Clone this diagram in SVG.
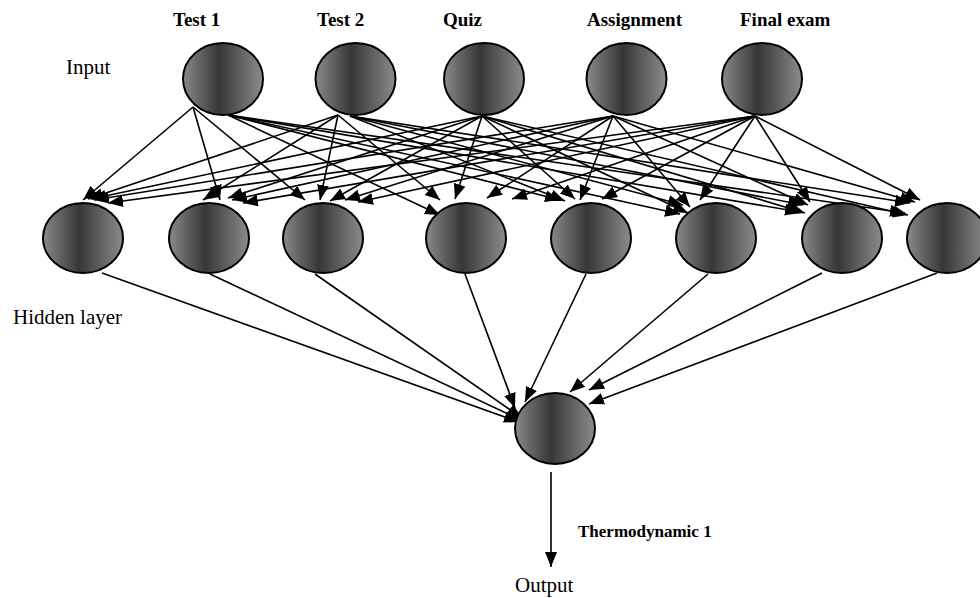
<svg xmlns="http://www.w3.org/2000/svg" width="980" height="598" viewBox="0 0 980 598">
<style>
.node{fill:url(#g);stroke:#000;stroke-width:2}
.c line{stroke:#000;stroke-width:1.6;marker-end:url(#a)}
.lb{font-family:"Liberation Serif","Times New Roman",serif;font-weight:bold;font-size:19px;fill:#000}
.lr{font-family:"Liberation Serif","Times New Roman",serif;font-size:21px;fill:#000}
</style>
<defs>
<linearGradient id="g" x1="0" y1="0" x2="1" y2="0">
<stop offset="0" stop-color="#8a8a8a"/>
<stop offset="0.45" stop-color="#363636"/>
<stop offset="1" stop-color="#8c8c8c"/>
</linearGradient>
<marker id="a" markerUnits="userSpaceOnUse" markerWidth="16" markerHeight="13" refX="15" refY="6" orient="auto">
<path d="M0,0 L15,6 L0,12 z" fill="#000"/>
</marker>
</defs>
<rect width="980" height="598" fill="#fff"/>
<g id="labels">
<text class="lb" x="173" y="26">Test 1</text>
<text class="lb" x="317" y="26">Test 2</text>
<text class="lb" x="443" y="26">Quiz</text>
<text class="lb" x="587" y="26">Assignment</text>
<text class="lb" x="740" y="26">Final exam</text>
<text class="lr" x="66" y="74">Input</text>
<text class="lr" x="13" y="324">Hidden layer</text>
<text class="lr" x="515" y="592">Output</text>
<text class="lb" x="578" y="537" style="font-size:17px">Thermodynamic 1</text>
</g>
<g id="connectors" class="c">
<!-- Test 1 -->
<line x1="193" y1="107" x2="83" y2="200"/>
<line x1="193" y1="107" x2="220" y2="200"/>
<line x1="193" y1="107" x2="305" y2="200"/>
<line x1="228" y1="115" x2="440" y2="215"/>
<line x1="228" y1="115" x2="560" y2="200"/>
<line x1="228" y1="115" x2="680" y2="214"/>
<line x1="228" y1="115" x2="800" y2="212"/>
<line x1="228" y1="115" x2="905" y2="213"/>
<!-- Test 2 -->
<line x1="338" y1="115" x2="88" y2="199"/>
<line x1="338" y1="115" x2="203" y2="200"/>
<line x1="338" y1="115" x2="320" y2="200"/>
<line x1="338" y1="115" x2="440" y2="200"/>
<line x1="350" y1="116" x2="565" y2="201"/>
<line x1="350" y1="116" x2="683" y2="205"/>
<line x1="350" y1="116" x2="803" y2="205"/>
<line x1="350" y1="116" x2="910" y2="203"/>
<!-- Quiz -->
<line x1="482" y1="116" x2="91" y2="199"/>
<line x1="482" y1="116" x2="228" y2="198"/>
<line x1="482" y1="116" x2="330" y2="201"/>
<line x1="482" y1="116" x2="455" y2="199"/>
<line x1="482" y1="116" x2="575" y2="199"/>
<line x1="482" y1="116" x2="688" y2="213"/>
<line x1="482" y1="116" x2="805" y2="213"/>
<line x1="482" y1="116" x2="908" y2="215"/>
<!-- Assignment -->
<line x1="613" y1="116" x2="94" y2="200"/>
<line x1="613" y1="116" x2="232" y2="200"/>
<line x1="613" y1="116" x2="345" y2="200"/>
<line x1="613" y1="116" x2="487" y2="198"/>
<line x1="613" y1="116" x2="580" y2="200"/>
<line x1="613" y1="116" x2="690" y2="207"/>
<line x1="613" y1="116" x2="808" y2="205"/>
<line x1="613" y1="116" x2="915" y2="202"/>
<!-- Final exam -->
<line x1="755" y1="116" x2="108" y2="203"/>
<line x1="755" y1="116" x2="243" y2="203"/>
<line x1="755" y1="116" x2="358" y2="202"/>
<line x1="755" y1="116" x2="512" y2="199"/>
<line x1="755" y1="116" x2="602" y2="199"/>
<line x1="755" y1="116" x2="700" y2="200"/>
<line x1="755" y1="116" x2="810" y2="202"/>
<line x1="755" y1="116" x2="920" y2="200"/>
<!-- hidden to output -->
<line x1="102" y1="273" x2="519" y2="422"/>
<line x1="210" y1="274" x2="521" y2="420"/>
<line x1="315" y1="274" x2="522" y2="418"/>
<line x1="465" y1="274" x2="515" y2="408"/>
<line x1="586" y1="274" x2="525" y2="402"/>
<line x1="708" y1="274" x2="570" y2="392"/>
<line x1="822" y1="273" x2="589" y2="390"/>
<line x1="937" y1="273" x2="589" y2="404"/>
<!-- output -->
<line x1="551" y1="472" x2="551" y2="567"/>
</g>
<g id="in1"><ellipse class="node" cx="223" cy="79" rx="40" ry="36"/></g>
<g id="in2"><ellipse class="node" cx="355.5" cy="79" rx="40" ry="36"/></g>
<g id="in3"><ellipse class="node" cx="484" cy="79" rx="40" ry="36"/></g>
<g id="in4"><ellipse class="node" cx="626.5" cy="79" rx="40" ry="36"/></g>
<g id="in5"><ellipse class="node" cx="762" cy="79" rx="40" ry="36"/></g>
<g id="h1"><ellipse class="node" cx="83" cy="238" rx="40" ry="35"/></g>
<g id="h2"><ellipse class="node" cx="209" cy="238" rx="40" ry="35"/></g>
<g id="h3"><ellipse class="node" cx="323" cy="238" rx="40" ry="35"/></g>
<g id="h4"><ellipse class="node" cx="466" cy="238" rx="40" ry="35"/></g>
<g id="h5"><ellipse class="node" cx="591" cy="238" rx="40" ry="35"/></g>
<g id="h6"><ellipse class="node" cx="716" cy="238" rx="40" ry="35"/></g>
<g id="h7"><ellipse class="node" cx="842" cy="238" rx="40" ry="35"/></g>
<g id="h8"><ellipse class="node" cx="947" cy="238" rx="40" ry="35"/></g>
<g id="out"><ellipse class="node" cx="555" cy="428.5" rx="40" ry="35.5"/></g>
</svg>
